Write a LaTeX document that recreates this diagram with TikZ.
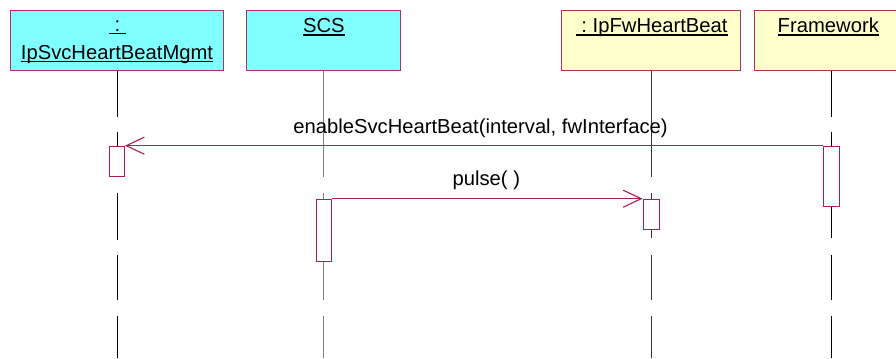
\documentclass[tikz,border=0pt]{standalone}
\usepackage{fontspec}
\setmainfont{Liberation Sans}
\usetikzlibrary{arrows.meta}
\definecolor{crim}{RGB}{170,30,80}
\definecolor{boxline}{RGB}{176,48,96}
\definecolor{cyanfill}{RGB}{128,255,255}
\definecolor{yelfill}{RGB}{255,255,204}
\tikzset{
  objbox/.style={draw=boxline, line width=1bp, rectangle, inner sep=0pt, minimum height=60bp},
  objtext/.style={inner sep=0pt, anchor=base, font=\fontsize{20.3}{24}\selectfont},
  uline/.style={line width=1.5bp, black},
  life/.style={line width=1bp},
  actbox/.style={draw=crim, fill=white, line width=1bp, rectangle, inner sep=0pt, minimum width=15bp, anchor=north},
  msg/.style={draw=crim, line width=1.1bp, -{Straight Barb[length=18bp,width=17bp,line width=1.1bp]}},
  msgtext/.style={inner sep=0pt, anchor=base, font=\fontsize{20.3}{24}\selectfont}
}
\begin{document}
\begin{tikzpicture}[x=1bp,y=-1bp]
\useasboundingbox (0,0) rectangle (896,358);
\clip (0,0) rectangle (896,358);
\fill[white] (0,0) rectangle (896,358);
% object boxes
\node[objbox, fill=cyanfill, minimum width=213bp, anchor=north west] (b1) at (10,10) {};
\node[objbox, fill=cyanfill, minimum width=154bp, anchor=north west] (b2) at (246,10) {};
\node[objbox, fill=yelfill, minimum width=179bp, anchor=north west] (b3) at (561,10) {};
\node[objbox, fill=yelfill, minimum width=154bp, anchor=north west] (b4) at (753.5,10) {};
% texts
\node[objtext] (t1a) at (117.5,31) {\ :\ \ };
\node[objtext] (t1b) at (117,59.3) {IpSvcHeartBeatMgmt};
\node[objtext] (t2) at (323.8,32.5) {SCS};
\node[objtext] (t3) at (651.7,32.5) {\ :\ IpFwHeartBeat};
\node[objtext] (t4) at (828.3,32.5) {Framework};
\foreach \t in {t1a,t1b,t2,t3,t4}{
  \draw[uline] ([yshift=-2.4bp]\t.base west) -- ([yshift=-2.4bp]\t.base east);
}
% lifelines
\draw[life, black] (b1.south) -- (b1.south |- 0,116.7)
  (b1.south |- 0,131.7) -- (b1.south |- 0,176.7)
  (b1.south |- 0,193.3) -- (b1.south |- 0,240)
  (b1.south |- 0,255) -- (b1.south |- 0,300)
  (b1.south |- 0,316) -- (b1.south |- 0,358);
\draw[life, gray] (b2.south) -- (b2.south |- 0,176.7)
  (b2.south |- 0,193.3) -- (b2.south |- 0,300)
  (b2.south |- 0,316) -- (b2.south |- 0,358);
\draw[life, black!80] (b3.south) -- (b3.south |- 0,176.7)
  (b3.south |- 0,193.3) -- (b3.south |- 0,238.3)
  (b3.south |- 0,255) -- (b3.south |- 0,300)
  (b3.south |- 0,316) -- (b3.south |- 0,358);
\draw[life, black] (b4.south) -- (b4.south |- 0,116.7)
  (b4.south |- 0,131.7) -- (b4.south |- 0,238.3)
  (b4.south |- 0,255) -- (b4.south |- 0,300)
  (b4.south |- 0,316) -- (b4.south |- 0,358);
% activations
\node[actbox, minimum height=30.3bp] (a1) at (b1.south |- 0,145.7) {};
\node[actbox, minimum height=62.3bp] (a2) at (b2.south |- 0,198.7) {};
\node[actbox, minimum height=30bp, minimum width=16bp] (a3) at (b3.south |- 0,198.7) {};
\node[actbox, minimum height=60.6bp, minimum width=16bp] (a4) at (b4.south |- 0,145.7) {};
% messages
\draw[msg] (a4.north west) -- (a1.north east);
\node[msgtext] (m1) at (480.5,133.3) {enableSvcHeartBeat(interval, fwInterface)};
\draw[msg] (a2.north east) -- (a3.north west);
\node[msgtext] (m2) at (486.3,185) {pulse( )};
\end{tikzpicture}
\end{document}
